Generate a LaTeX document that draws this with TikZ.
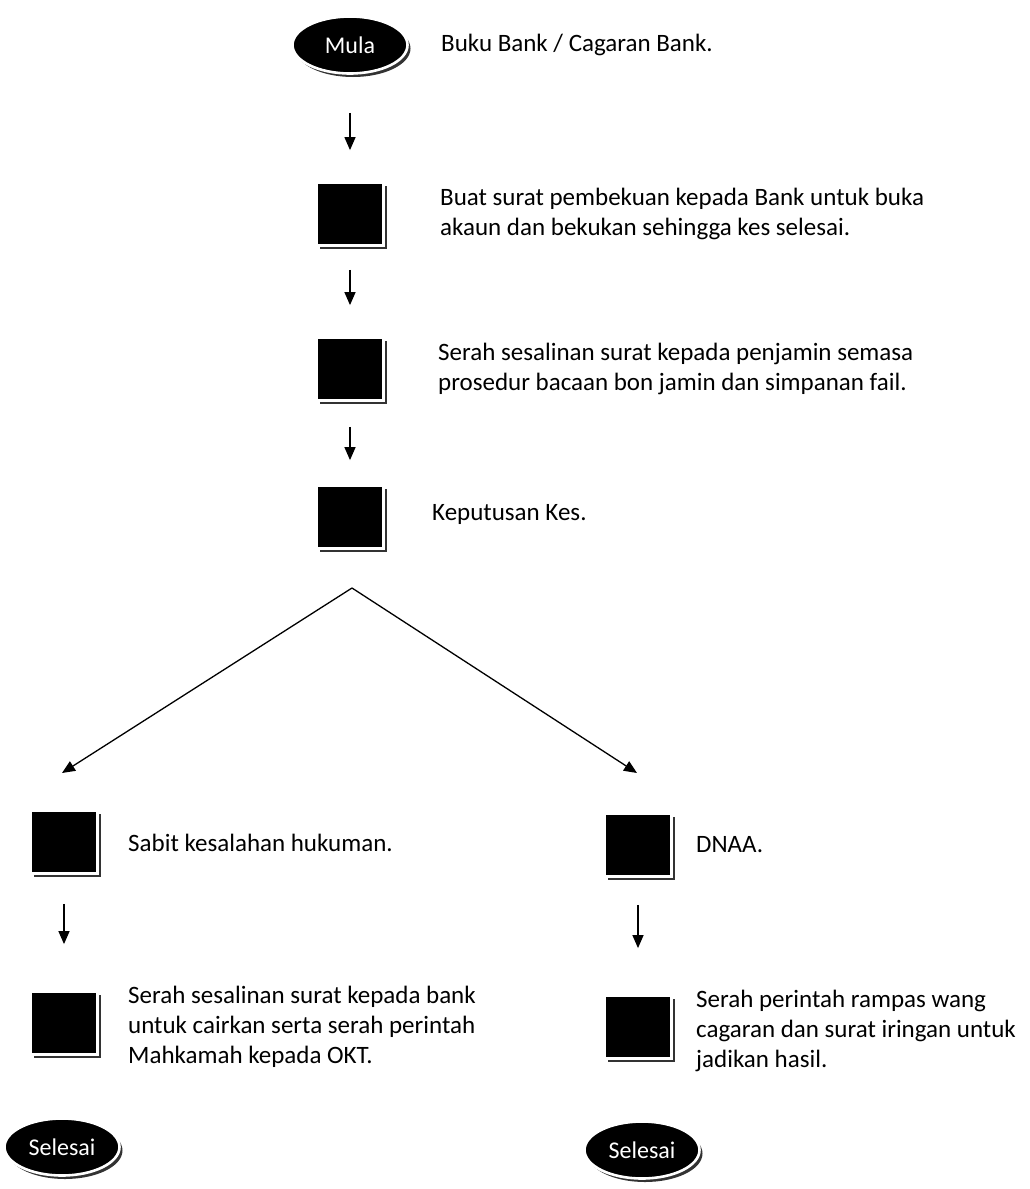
\documentclass[tikz,border=0pt]{standalone}
\usepackage{fontspec}
\setmainfont{Carlito}
\usetikzlibrary{arrows.meta,shapes.geometric,shadows}
\begin{document}
\begin{tikzpicture}[x=1pt,y=-1pt,
  term/.style={ellipse, fill=black, draw=white, line width=2.6pt,
    minimum width=115pt, minimum height=57pt, inner sep=0pt, text=white,
    font=\fontsize{24}{28}\selectfont,
    drop shadow={shadow xshift=3pt, shadow yshift=-3.5pt, fill=black, opacity=0.8}},
  blk/.style={rectangle, fill=black, draw=white, line width=2.8pt,
    minimum width=67pt, minimum height=63pt, inner sep=0pt,
    drop shadow={shadow xshift=3pt, shadow yshift=-3pt, fill=black, opacity=0.8}},
  txt/.style={anchor=west, align=left, inner sep=0pt,
    font=\fontsize{25}{30}\selectfont},
  arr/.style={line width=1.3pt, -{Triangle[width=11pt,length=13pt]}},
]
\useasboundingbox (0,0) rectangle (1030,1189);

% main column
\node[term] (mula) at (350,45) {Mula};
\node[txt] (t0) at (441,45) {Buku Bank / Cagaran Bank.};

\node[blk] (b1) at (350,214) {};
\node[txt] (t1) at (440,214) {Buat surat pembekuan kepada Bank untuk buka\\akaun dan bekukan sehingga kes selesai.};

\node[blk] (b2) at (350,369) {};
\node[txt] (t2) at (438,369) {Serah sesalinan surat kepada penjamin semasa\\prosedur bacaan bon jamin dan simpanan fail.};

\node[blk] (b3) at (350,517) {};
\node[txt] (t3) at (432,514) {Keputusan Kes.};

\draw[arr, shorten <=38pt, shorten >=31pt] (mula) -- (b1);
\draw[arr, shorten <=23pt, shorten >=31pt] (b1) -- (b2);
\draw[arr, shorten <=25pt, shorten >=24pt] (b2) -- (b3);

% branch
\coordinate (apex) at (352,588);
\coordinate (tipL) at (62,773);
\coordinate (tipR) at (637,773);
\draw[arr] (apex) -- (tipL);
\draw[arr] (apex) -- (tipR);

% left column
\node[blk] (l1) at (64,842) {};
\node[txt] (tl1) at (128,843) {Sabit kesalahan hukuman.};
\node[blk] (l2) at (64,1023) {};
\node[txt] (tl2) at (128,1027) {Serah sesalinan surat kepada bank\\untuk cairkan serta serah perintah\\Mahkamah kepada OKT.};
\node[term] (endL) at (62,1147) {Selesai};
\draw[arr, shorten <=29pt, shorten >=46pt] (l1) -- (l2);

% right column
\node[blk] (r1) at (638,845) {};
\node[txt] (tr1) at (696,845) {DNAA.};
\node[blk] (r2) at (638,1027) {};
\node[txt] (tr2) at (696,1031) {Serah perintah rampas wang\\cagaran dan surat iringan untuk\\jadikan hasil.};
\node[term] (endR) at (642,1150) {Selesai};
\draw[arr, shorten <=27pt, shorten >=46pt] (r1) -- (r2);
\end{tikzpicture}
\end{document}
